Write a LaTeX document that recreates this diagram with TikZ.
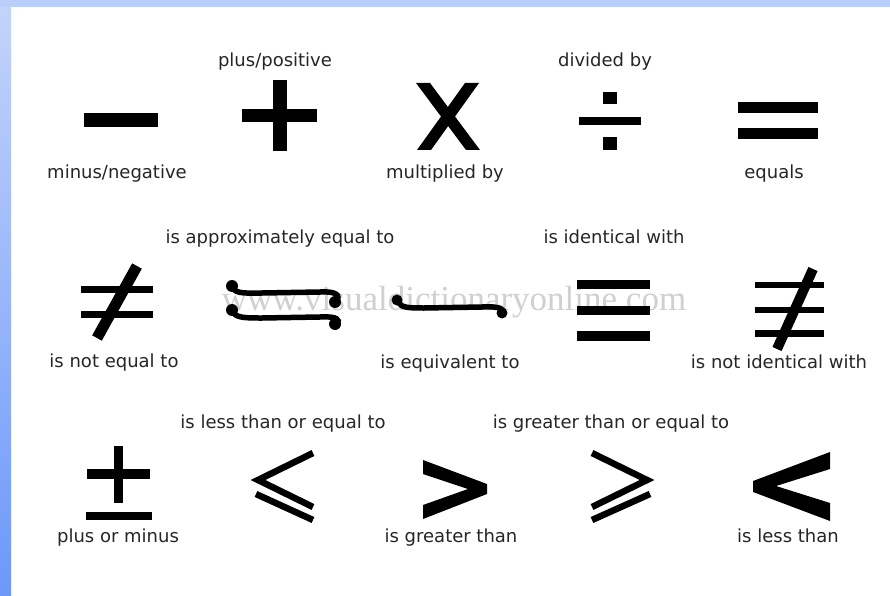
\documentclass[tikz,border=0pt]{standalone}
\usepackage{fontspec}
\setmainfont{DejaVu Sans}
\newfontfamily\wmfont{Liberation Serif}
\usepackage{xcolor}
\usepackage{tikz}
\usetikzlibrary{positioning}
\definecolor{bandtop}{RGB}{196,212,250}
\definecolor{bandlow}{RGB}{108,152,250}
\definecolor{topband}{RGB}{186,206,250}
\definecolor{labeltext}{RGB}{38,38,38}
\definecolor{watermark}{RGB}{208,208,208}

\begin{document}
\begin{tikzpicture}[x=1pt, y=-1pt,
            symtext/.style={font=\fontsize{18}{20}\selectfont, text=labeltext, anchor=base, inner sep=0pt},
            bar/.style={fill=black},
            thin stroke/.style={draw=black, line width=6.5pt, line join=miter},
            curl/.style={draw=black, line width=5.5pt, line cap=round}]

            % Frame with blue border
            \useasboundingbox (0,0) rectangle (890,596);
            \fill[white] (0,0) rectangle (890,596);
            \shade[top color=bandtop, bottom color=bandlow] (0,0) rectangle (11,596);
            \fill[topband] (0,0) rectangle (890,7);

            % Watermark
            \node[font=\wmfont\fontsize{35}{37}\selectfont, text=watermark, inner sep=0pt] (mark) at (454,302) {www.visualdictionaryonline.com};

            % Row 1 symbols
            \fill[bar] (84,113) rectangle (158,127);
            \fill[bar] (242,109) rectangle (317,122);
            \fill[bar] (273,80) rectangle (287,151);
            \fill[bar] (416,83) -- (430,83) -- (480,150) -- (466,150) -- cycle;
            \fill[bar] (465,83) -- (479,83) -- (431,150) -- (417,150) -- cycle;
            \fill[bar] (603,92) rectangle (617,104);
            \fill[bar] (579,117) rectangle (641,125);
            \fill[bar] (603,137) rectangle (617,150);
            \fill[bar] (738,102) rectangle (818,113);
            \fill[bar] (738,128) rectangle (818,139);

            % Row 2 symbols
            \fill[bar] (81,286) rectangle (153,293);
            \fill[bar] (81,311) rectangle (153,318);
            \draw[line width=11pt] (137,266) -- (97,338);
            \draw[curl] (233,288) .. controls (236,294) and (246,293) .. (262,293) -- (320,292) .. controls (337,291) and (341,296) .. (336,301);
            \fill (232,286) circle (6);
            \fill (335,302) circle (6);
            \draw[curl] (233,312) .. controls (236,318) and (246,318) .. (262,318) -- (320,317) .. controls (337,316) and (341,320) .. (336,323);
            \fill (232,310) circle (6);
            \fill (335,324) circle (6);
            \draw[curl] (398,302) .. controls (401,308) and (410,308) .. (424,308) -- (482,307) .. controls (499,306) and (504,309) .. (502,312);
            \fill (397,300) circle (5.5);
            \fill (502,313) circle (5.5);
            \fill[bar] (577,280) rectangle (650,289);
            \fill[bar] (577,306) rectangle (650,315);
            \fill[bar] (577,331) rectangle (650,341);
            \fill[bar] (755,282) rectangle (824,288);
            \fill[bar] (755,307) rectangle (824,313);
            \fill[bar] (755,330) rectangle (824,337);
            \draw[line width=10pt] (813,269) -- (777,349);

            % Row 3 symbols
            \fill[bar] (114,446) rectangle (123,503);
            \fill[bar] (87,469) rectangle (150,479);
            \fill[bar] (86,512) rectangle (152,520);
            \draw[thin stroke] (313,453) -- (258,480) -- (313,507);
            \draw[thin stroke] (256,494) -- (313,520);
            \fill[bar] (423,460) -- (487,484) -- (487,494) -- (423,519) -- (423,505) -- (468,489) -- (423,474) -- cycle;
            \draw[thin stroke] (592,453) -- (647,480) -- (592,507);
            \draw[thin stroke] (650,494) -- (592,520);
            \fill[bar] (830,452) -- (753,481) -- (753,492) -- (830,521) -- (830,503) -- (776,486) -- (830,469) -- cycle;

            % Labels
            \node[symtext] (plus) at (275,67) {plus/positive};
            \node[symtext] (divided) at (605,67) {divided by};
            \node[symtext] (minus) at (117,178) {minus/negative};
            \node[symtext] (times) at (445,178) {multiplied by};
            \node[symtext] (equals) at (774,178) {equals};
            \node[symtext] (approx) at (280,243) {is approximately equal to};
            \node[symtext] (ident) at (614,243) {is identical with};
            \node[symtext] (noteq) at (114,367) {is not equal to};
            \node[symtext] (equiv) at (450,368) {is equivalent to};
            \node[symtext] (notident) at (779,368) {is not identical with};
            \node[symtext] (leq) at (283,428) {is less than or equal to};
            \node[symtext] (geq) at (611,428) {is greater than or equal to};
            \node[symtext] (pm) at (118,542) {plus or minus};
            \node[symtext] (greater) at (451,542) {is greater than};
            \node[symtext] (less) at (788,542) {is less than};
        \end{tikzpicture}
\end{document}
